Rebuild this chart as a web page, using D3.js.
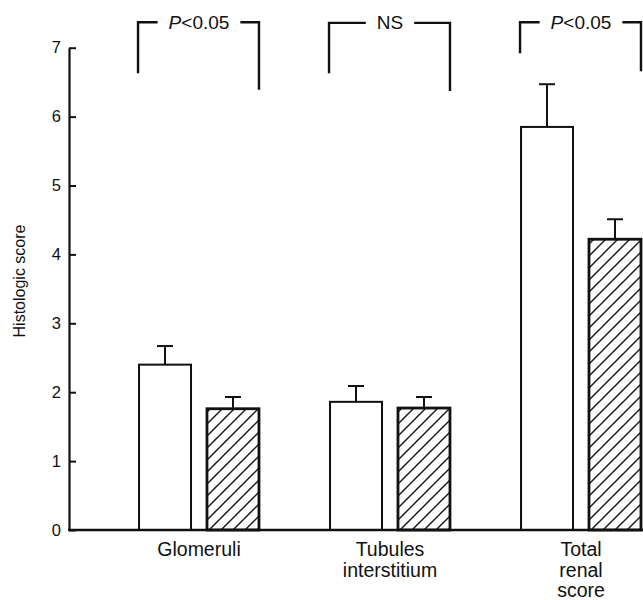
<!DOCTYPE html>
<html>
<head>
<meta charset="utf-8">
<script src="https://cdn.jsdelivr.net/npm/d3@7"></script>
<style>
  html, body { margin: 0; padding: 0; background: #fff; }
  svg { display: block; font-family: "Liberation Sans", Arial, Helvetica, sans-serif; }
</style>
</head>
<body>
<svg id="chart" width="643" height="600"></svg>
<script>
// ---- data ----
const categories = ["Glomeruli", "Tubules interstitium", "Total renal score"];
const categoryLabels = [["Glomeruli"], ["Tubules", "interstitium"], ["Total", "renal", "score"]];
const series = ["Control", "Treated"];
const controlValues = [2.40, 1.86, 5.85];
const controlErrors = [0.27, 0.23, 0.62];
const treatedValues = [1.76, 1.77, 4.22];
const treatedErrors = [0.17, 0.16, 0.29];
const yTicks = [0, 1, 2, 3, 4, 5, 6, 7];
const yTitle = "Histologic score";
const significance = ["P<0.05", "NS", "P<0.05"];
const bracketTop = [7.37, 7.36, 7.37];
const bracketLeftEnd = [6.63, 6.63, 6.92];
const bracketRightEnd = [6.39, 6.37, 6.66];

// ---- layout ----
const svg = d3.select("#chart");
const ink = "#111";
const yAxisX = 69;

const y = d3.scaleLinear().domain([0, 7]).range([530, 47.7]);
const x0 = d3.scaleBand().domain(categories).range([103.5, 676.5])
  .paddingInner(0.372).paddingOuter(0.186);
const x1 = d3.scaleBand().domain(series).range([0, x0.bandwidth()]).paddingInner(0.235);

// hatch pattern
const defs = svg.append("defs");
const pat = defs.append("pattern").attr("id", "hatch")
  .attr("patternUnits", "userSpaceOnUse").attr("width", 12).attr("height", 12);
pat.append("rect").attr("width", 12).attr("height", 12).attr("fill", "#fff");
pat.append("path").attr("d", "M0,12 L12,0 M-3,3 L3,-3 M9,15 L15,9")
  .attr("stroke", ink).attr("stroke-width", 1.4);

// y axis
const yAxis = d3.axisLeft(y).tickValues(yTicks).tickFormat(d3.format("d"))
  .tickSizeInner(-7).tickSizeOuter(0).tickPadding(8);
const gy = svg.append("g").attr("transform", `translate(${yAxisX},0)`).call(yAxis);
gy.select(".domain").attr("stroke", ink).attr("stroke-width", 2.2);
gy.selectAll(".tick line").attr("stroke", ink).attr("stroke-width", 2);
gy.selectAll(".tick text").attr("fill", ink).attr("font-size", 16.5)
  .attr("font-family", "Liberation Sans, Arial, sans-serif");

svg.append("text")
  .attr("transform", `translate(25,281) rotate(-90)`)
  .attr("text-anchor", "middle").attr("font-size", 16).attr("fill", ink)
  .text(yTitle);

// bars
const rows = categories.map((c, i) => ({
  cat: c,
  vals: [
    { s: series[0], v: controlValues[i], e: controlErrors[i] },
    { s: series[1], v: treatedValues[i], e: treatedErrors[i] }
  ]
}));

const groups = svg.append("g").selectAll("g").data(rows).join("g")
  .attr("transform", d => `translate(${x0(d.cat)},0)`);

// error bars (drawn first, bars on top)
groups.selectAll("g.err").data(d => d.vals).join("g").attr("class", "err").each(function(d) {
  const g = d3.select(this);
  const cx = x1(d.s) + x1.bandwidth() / 2;
  g.append("line").attr("x1", cx).attr("x2", cx)
    .attr("y1", y(d.v)).attr("y2", y(d.v + d.e))
    .attr("stroke", ink).attr("stroke-width", 2);
  g.append("line").attr("x1", cx - 8).attr("x2", cx + 8)
    .attr("y1", y(d.v + d.e)).attr("y2", y(d.v + d.e))
    .attr("stroke", ink).attr("stroke-width", 2);
});

groups.selectAll("rect").data(d => d.vals).join("rect")
  .attr("x", d => x1(d.s))
  .attr("width", x1.bandwidth())
  .attr("y", d => y(d.v))
  .attr("height", d => y(0) - y(d.v))
  .attr("fill", d => d.s === series[0] ? "#fff" : "url(#hatch)")
  .attr("stroke", ink)
  .attr("stroke-width", d => d.s === series[0] ? 2 : 2.8);

// x baseline
svg.append("line").attr("x1", yAxisX - 1).attr("x2", 643)
  .attr("y1", y(0)).attr("y2", y(0))
  .attr("stroke", ink).attr("stroke-width", 2.5);

// category labels
const lab = svg.append("g").selectAll("text").data(categories).join("text")
  .attr("text-anchor", "middle").attr("font-size", 19.5).attr("fill", ink)
  .attr("x", d => x0(d) + x0.bandwidth() / 2)
  .attr("y", 556);
lab.each(function(d, i) {
  const t = d3.select(this);
  categoryLabels[i].forEach((line, j) => {
    t.append("tspan").attr("x", x0(d) + x0.bandwidth() / 2)
      .attr("dy", j === 0 ? 0 : 20.5).text(line);
  });
});

// significance brackets
const br = svg.append("g");
categories.forEach((c, i) => {
  const left = x0(c) - 1;
  const right = x0(c) + x0.bandwidth();
  const mid = x0(c) + x0.bandwidth() / 2;
  const top = y(bracketTop[i]);
  const t = br.append("text").attr("x", mid).attr("y", top + 6.5)
    .attr("text-anchor", "middle").attr("font-size", 19).attr("fill", ink);
  const s = significance[i];
  if (s.startsWith("P")) {
    t.append("tspan").attr("font-style", "italic").text("P");
    t.append("tspan").text(s.slice(1));
  } else {
    t.text(s);
  }
  const w = t.node().getComputedTextLength();
  const gap = 11;
  br.append("path")
    .attr("d", `M${left},${y(bracketLeftEnd[i])} V${top} H${mid - w / 2 - gap}`)
    .attr("fill", "none").attr("stroke", ink).attr("stroke-width", 2.4);
  br.append("path")
    .attr("d", `M${mid + w / 2 + gap},${top} H${right} V${y(bracketRightEnd[i])}`)
    .attr("fill", "none").attr("stroke", ink).attr("stroke-width", 2.4);
});
</script>
</body>
</html>
